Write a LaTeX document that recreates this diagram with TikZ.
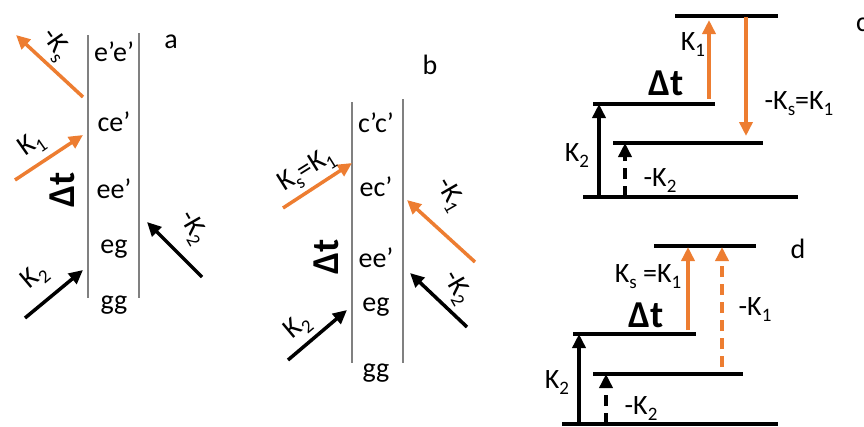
\documentclass[tikz,border=0pt]{standalone}
\usepackage{fontspec}
\setmainfont{Carlito}
\usepackage{tikz}
\usetikzlibrary{arrows.meta, positioning}
\definecolor{korange}{RGB}{237,125,49}
\newcommand{\ksub}[1]{\raisebox{-6pt}{\fontsize{19}{19}\selectfont #1}}

\begin{document}
\begin{tikzpicture}[x=1pt, y=-1pt,
    every node/.style={font=\fontsize{28}{32}\selectfont, inner sep=0pt},
    big/.style={font=\fontsize{38}{42}\selectfont\bfseries},
    wall/.style={draw=gray, line width=1.2pt},
    lvl/.style={line width=3.5pt},
    kup/.style={line width=3.5pt, -{Triangle[length=14pt, width=13pt]}},
    korg/.style={kup, draw=korange},
    kdash/.style={dash pattern=on 11pt off 7pt}]
    \useasboundingbox (0,0) rectangle (864,426);

    % (a) pair states between two walls
    \path[wall] (88,35) -- (88,298)
                (139,33) -- (139,298);
    \node (aee) at (114,52) {e’e’};
    \node (ace) at (114,122) {ce’};
    \node (aeE) at (114,189) {ee’};
    \node (aeg) at (114,249) {eg};
    \node (agg) at (114,305) {gg};
    \node (la) at (171,42) {a};
    \node[big, rotate=90] (adt) at (62,190) {Δt};

    \draw[korg] (83,97) -- (16,35);
    \node[rotate=-55] (aks) at (55,45) {-K\ksub{s}};
    \draw[korg] (15,180) -- (83,135);
    \node[rotate=35] (ak1) at (32,145) {K\ksub{1}};
    \draw[kup] (25,318) -- (83,270);
    \node[rotate=40] (ak2) at (35,277) {K\ksub{2}};
    \draw[kup] (202,277) -- (147,222);
    \node[rotate=-60] (amk2) at (193,228) {-K\ksub{2}};

    % (b)
    \path[wall] (352,102) -- (352,363)
                (403,99) -- (403,363);
    \node (bcc) at (376,123) {c’c’};
    \node (bec) at (376,187) {ec’};
    \node (bee) at (376,258) {ee’};
    \node (beg) at (376,307) {eg};
    \node (bgg) at (376,373) {gg};
    \node (lb) at (430,65) {b};
    \node[big, rotate=90] (bdt) at (326,257) {Δt};

    \draw[korg] (283,208) -- (352,163);
    \node[rotate=32] (bks) at (307,171) {K\ksub{s}=K\ksub{1}};
    \draw[korg] (475,262) -- (407,200);
    \node[rotate=-60] (bmk1) at (450,195) {-K\ksub{1}};
    \draw[kup] (288,360) -- (347,310);
    \node[rotate=40] (bk2) at (298,327) {K\ksub{2}};
    \draw[kup] (467,327) -- (410,273);
    \node[rotate=-60] (bmk2) at (457,288) {-K\ksub{2}};

    % (c) level scheme
    \path[draw, lvl] (675,16) -- (778,16)
                     (593,104) -- (715,104)
                     (613,143) -- (763,143)
                     (583,197) -- (798,197);
    \node (lc) at (862,25) {c};
    \node[big] (cdt) at (666,83) {Δt};
    \draw[kup] (599,197) -- (599,104);
    \node (ck2) at (577,156) {K\ksub{2}};
    \draw[kup, kdash] (625,197) -- (625,143);
    \node (cmk2) at (660,181) {-K\ksub{2}};
    \draw[korg] (709,99) -- (709,20);
    \node (ck1) at (693,45) {K\ksub{1}};
    \draw[korg] (746,17) -- (746,136);
    \node (cks) at (799,104) {-K\ksub{s}=K\ksub{1}};

    % (d)
    \path[draw, lvl] (654,246) -- (756,246)
                     (573,334) -- (696,334)
                     (593,374) -- (743,374)
                     (562,424) -- (778,424);
    \node (ld) at (798,249) {d};
    \node[big] (ddt) at (646,315) {Δt};
    \draw[kup] (579,424) -- (579,334);
    \node (dk2) at (557,383) {K\ksub{2}};
    \draw[kup, kdash] (606,424) -- (606,374);
    \node (dmk2) at (641,409) {-K\ksub{2}};
    \draw[korg] (688,330) -- (688,247);
    \node (dks) at (648,277) {K\ksub{s} =K\ksub{1}};
    \draw[korg, kdash] (722,367) -- (722,247);
    \node (dmk1) at (755,310) {-K\ksub{1}};
\end{tikzpicture}
\end{document}
